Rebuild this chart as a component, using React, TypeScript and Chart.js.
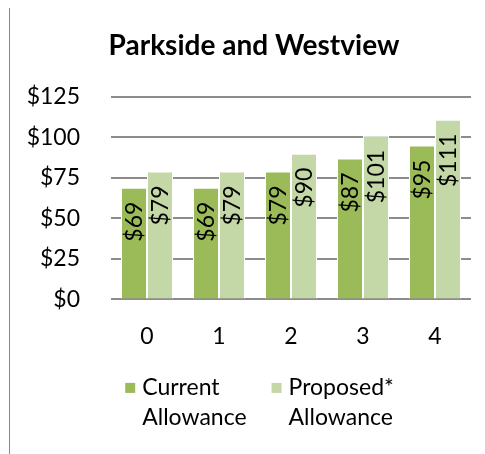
import React, { useEffect, useRef } from "react";
import { Chart, registerables } from "chart.js";

Chart.register(...registerables);

const TITLE = "Parkside and Westview";
const CATEGORIES = ["0", "1", "2", "3", "4"];
const SERIES_NAMES = ["Current Allowance", "Proposed* Allowance"];
const CURRENT = [69, 69, 79, 87, 95];
const PROPOSED = [79, 79, 90, 101, 111];
const Y_TICKS = [0, 25, 50, 75, 100, 125];
const COLORS = ["#9BBB59", "#C4D7A6"];

const FONT = "Lato, 'Open Sans', sans-serif";
const GRID = "#8c8c8c";

const labelPlugin = {
  id: "barLabels",
  afterDatasetsDraw(chart: any) {
    const ctx = chart.ctx;
    ctx.save();
    ctx.font = `23px ${FONT}`;
    ctx.fillStyle = "#000000";
    ctx.textAlign = "right";
    ctx.textBaseline = "middle";
    chart.data.datasets.forEach((ds: any, di: number) => {
      const meta = chart.getDatasetMeta(di);
      meta.data.forEach((el: any, i: number) => {
        const v = ds.data[i];
        ctx.save();
        ctx.translate(el.x + 1, el.y + 14);
        ctx.rotate(-Math.PI / 2);
        ctx.fillText("$" + v, 0, 0);
        ctx.restore();
      });
    });
    ctx.restore();
  },
};

const legendPlugin = {
  id: "wrapLegend",
  afterDraw(chart: any) {
    const ctx = chart.ctx;
    ctx.save();
    ctx.font = `23px ${FONT}`;
    ctx.textAlign = "left";
    ctx.textBaseline = "middle";
    const lineH = 30;
    const box = 10;
    const gap = 7;
    const spacing = 25;
    const items = chart.data.datasets.map((ds: any) => {
      const lines = String(ds.label).split(" ");
      const w = Math.max(...lines.map((l: string) => ctx.measureText(l).width));
      return { lines, w: box + gap + w, color: ds.backgroundColor };
    });
    const total = items.reduce((a: number, it: any) => a + it.w, 0) + spacing * (items.length - 1);
    let x = 249.5 - total / 2;
    const y0 = chart.chartArea.bottom + 88.5;
    items.forEach((it: any) => {
      ctx.fillStyle = it.color;
      ctx.fillRect(x, y0 - box / 2, box, box);
      ctx.fillStyle = "#000000";
      it.lines.forEach((l: string, li: number) => {
        ctx.fillText(l, x + box + gap, y0 + li * lineH);
      });
      x += it.w + spacing;
    });
    ctx.restore();
  },
};

export default function App() {
  const ref = useRef<HTMLCanvasElement>(null);
  useEffect(() => {
    const canvas = ref.current!;
    const chart = new Chart(canvas, {
      type: "bar",
      data: {
        labels: CATEGORIES,
        datasets: [
          {
            label: SERIES_NAMES[0],
            data: CURRENT,
            backgroundColor: COLORS[0],
            borderColor: "#ffffff",
            borderWidth: 1,
            borderSkipped: "bottom",
            categoryPercentage: 0.722,
            barPercentage: 1,
          },
          {
            label: SERIES_NAMES[1],
            data: PROPOSED,
            backgroundColor: COLORS[1],
            borderColor: "#ffffff",
            borderWidth: 1,
            borderSkipped: "bottom",
            categoryPercentage: 0.722,
            barPercentage: 1,
          },
        ],
      },
      options: {
        animation: false,
        responsive: false,
        layout: { padding: { left: 0, right: 0, top: 0, bottom: 81 } },
        plugins: {
          title: {
            display: true,
            text: TITLE,
            color: "#000000",
            font: { family: FONT, size: 28, weight: "bold" },
            padding: { top: 21.2, bottom: 34.2 },
          },
          legend: { display: false },
          tooltip: { enabled: false },
        },
        scales: {
          x: {
            grid: { display: false, drawTicks: false },
            border: { display: false },
            ticks: {
              color: "#000000",
              font: { family: FONT, size: 23 },
              padding: 23,
            },
          },
          y: {
            min: 0,
            max: 125,
            afterBuildTicks(scale: any) {
              scale.ticks = Y_TICKS.map((v) => ({ value: v }));
            },
            afterFit(scale: any) {
              scale.width = 101;
            },
            grid: { color: GRID, lineWidth: 2, drawTicks: false },
            border: { display: false },
            ticks: {
              color: "#000000",
              font: { family: FONT, size: 23 },
              padding: 31,
              callback: (v: any) => "$" + v,
            },
          },
          y2: {
            position: "right",
            min: 0,
            max: 125,
            grid: { display: false, drawTicks: false },
            border: { display: false },
            ticks: { display: false },
            afterFit(scale: any) {
              scale.width = 27;
            },
          },
        },
      },
      plugins: [labelPlugin, legendPlugin],
    });
    return () => chart.destroy();
  }, []);

  return (
    <div style={{ position: "relative", width: 477, height: 446, overflow: "hidden" }}>
      <div
        style={{
          position: "absolute",
          left: 1,
          top: -1,
          width: 500,
          height: 460,
          borderLeft: "1px solid #8a8a8a",
          borderTop: "1px solid #8a8a8a",
        }}
      >
        <canvas ref={ref} width={488} height={446} style={{ display: "block" }} />
      </div>
    </div>
  );
}
